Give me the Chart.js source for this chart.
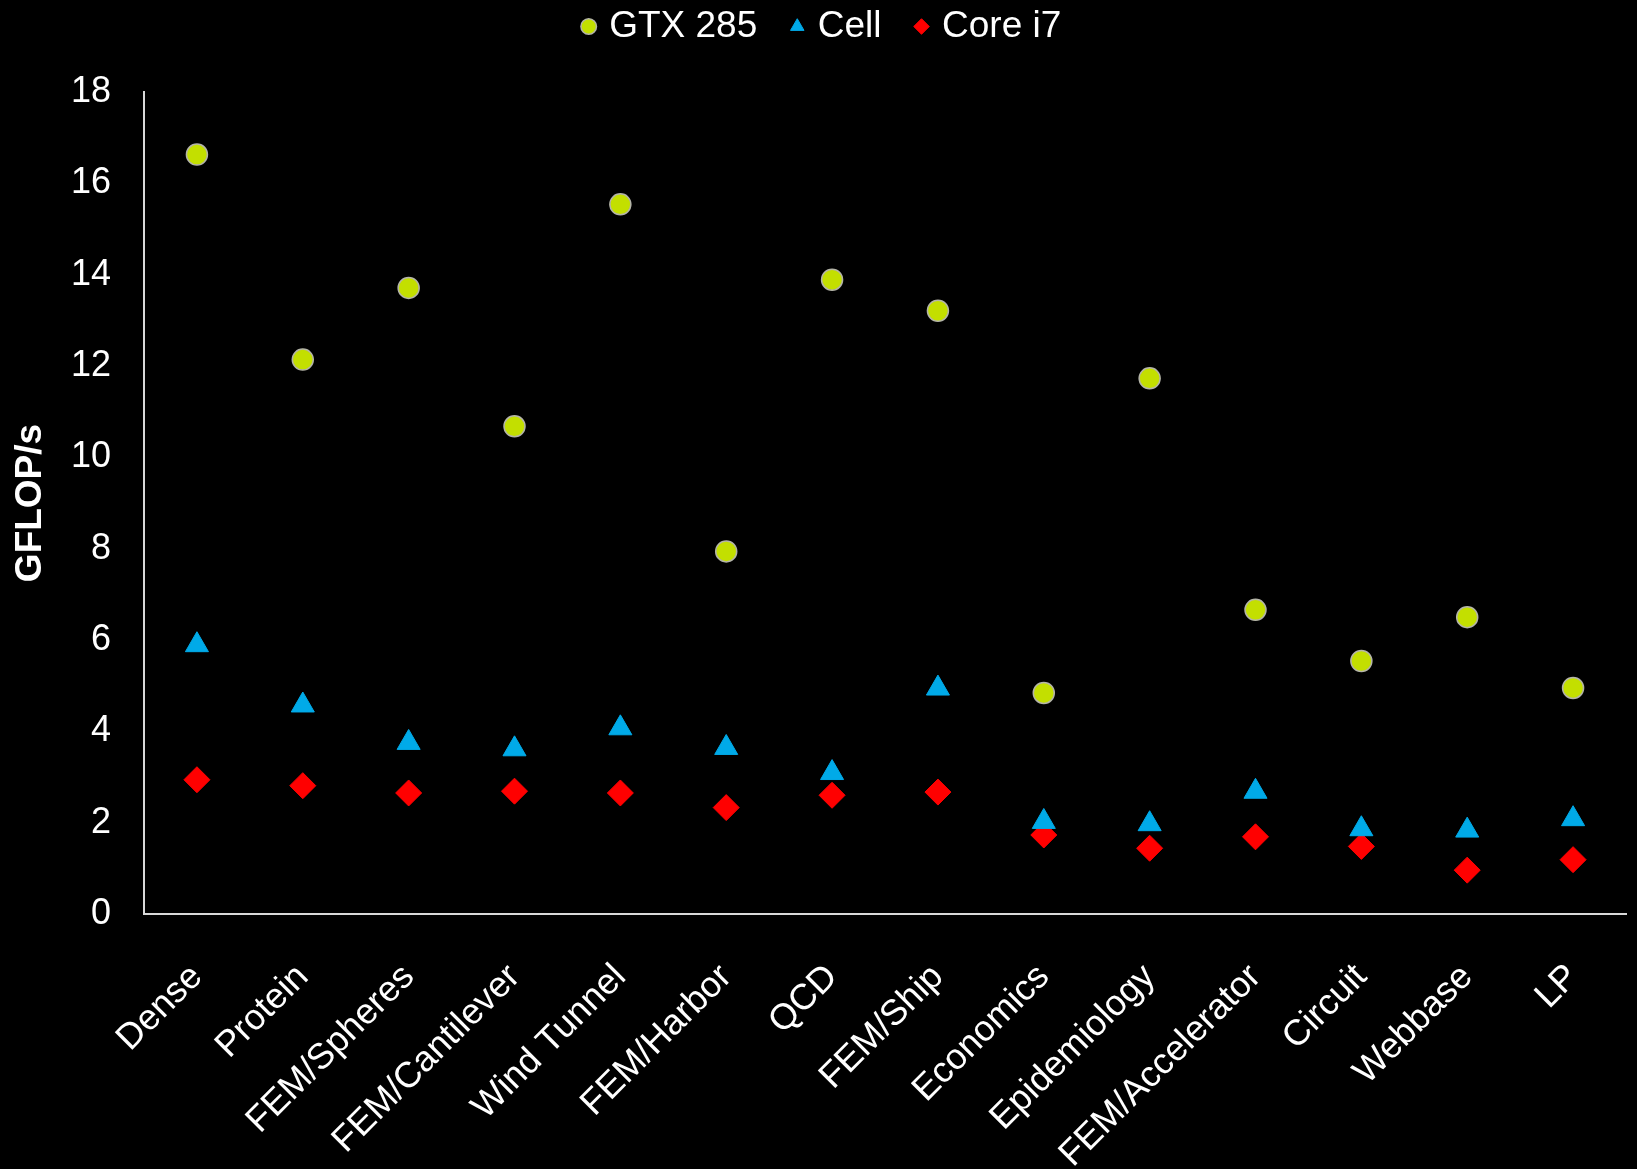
<!DOCTYPE html>
<html>
<head>
<meta charset="utf-8">
<script src="https://cdn.jsdelivr.net/npm/chart.js@4.4.1/dist/chart.umd.min.js"></script>
<style>
  html, body { margin: 0; padding: 0; background: #000; }
  #wrap { width: 1637px; height: 1169px; }
</style>
</head>
<body>
<div id="wrap"><canvas id="c"></canvas></div>
<script>
const categories = ["Dense", "Protein", "FEM/Spheres", "FEM/Cantilever", "Wind Tunnel", "FEM/Harbor", "QCD", "FEM/Ship", "Economics", "Epidemiology", "FEM/Accelerator", "Circuit", "Webbase", "LP"];
const gtx285 = [16.63, 12.14, 13.71, 10.68, 15.54, 7.94, 13.89, 13.21, 4.84, 11.73, 6.66, 5.54, 6.50, 4.95];
const cell   = [5.89, 4.57, 3.75, 3.61, 4.07, 3.64, 3.09, 4.94, 2.02, 1.97, 2.68, 1.86, 1.83, 2.08];
const corei7 = [2.94, 2.81, 2.65, 2.69, 2.65, 2.33, 2.60, 2.67, 1.73, 1.44, 1.69, 1.48, 0.96, 1.19];
const yTicks = [0, 2, 4, 6, 8, 10, 12, 14, 16, 18];

const FONT = "'Liberation Sans', Arial, sans-serif";
Chart.defaults.font.family = FONT;
Chart.defaults.color = '#ffffff';

new Chart(document.getElementById('c'), {
  type: 'line',
  data: {
    labels: categories,
    datasets: [
      { label: 'GTX 285', data: gtx285, xAxisID: 'x', yAxisID: 'y', showLine: false, pointStyle: 'circle', pointRadius: 10.5,
        backgroundColor: '#c3df00', borderColor: '#b4b4a8', pointBorderWidth: 1.5 },
      { label: 'Cell', data: cell, xAxisID: 'x', yAxisID: 'y', showLine: false, pointStyle: 'triangle', pointRadius: 13.3,
        backgroundColor: '#00aae8', borderColor: '#00aae8', pointBorderWidth: 1 },
      { label: 'Core i7', data: corei7, xAxisID: 'x', yAxisID: 'y', showLine: false, pointStyle: 'rectRot', pointRadius: 13,
        backgroundColor: '#ff0000', borderColor: '#ff0000', pointBorderWidth: 1 }
    ]
  },
  options: {
    responsive: true,
    maintainAspectRatio: false,
    animation: false,
    layout: { autoPadding: false, padding: { top: -30, right: 11, left: 22, bottom: 0 } },
    plugins: {
      legend: {
        position: 'top',
        labels: {
          usePointStyle: true,
          boxWidth: 4,
          boxHeight: 11,
          padding: 38,
          color: '#ffffff',
          font: { size: 37, family: FONT }
        }
      },
      tooltip: { enabled: false }
    },
    scales: {
      x: {
        type: 'category',
        position: 'bottom',
        offset: true,
        grid: { display: false, drawTicks: false },
        border: { display: true, color: '#d9d9d9', width: 2 },
        ticks: { autoSkip: false, maxRotation: 45, minRotation: 45, padding: 42, color: '#ffffff', font: { size: 36, family: FONT } },
        afterFit: s => { s.height = 255; s.paddingRight = 0; }
      },
      xTop: {
        type: 'category',
        position: 'top',
        display: true,
        offset: true,
        grid: { display: false },
        border: { display: false },
        ticks: { display: false },
        afterFit: s => { s.height = 37; s.paddingRight = 0; s.paddingLeft = 0; }
      },
      y: {
        min: 0, max: 18,
        afterBuildTicks: s => { s.ticks = yTicks.map(v => ({ value: v })); },
        grid: { display: false, drawTicks: false },
        border: { display: true, color: '#d9d9d9', width: 2 },
        ticks: { padding: 33, color: '#ffffff', font: { size: 36, family: FONT } },
        title: { display: true, text: 'GFLOP/s', color: '#ffffff', font: { size: 37, weight: 'bold', family: FONT }, padding: { top: -13, bottom: 0 } },
        afterFit: s => { s.width = 122; }
      }
    }
  }
});
</script>
</body>
</html>
